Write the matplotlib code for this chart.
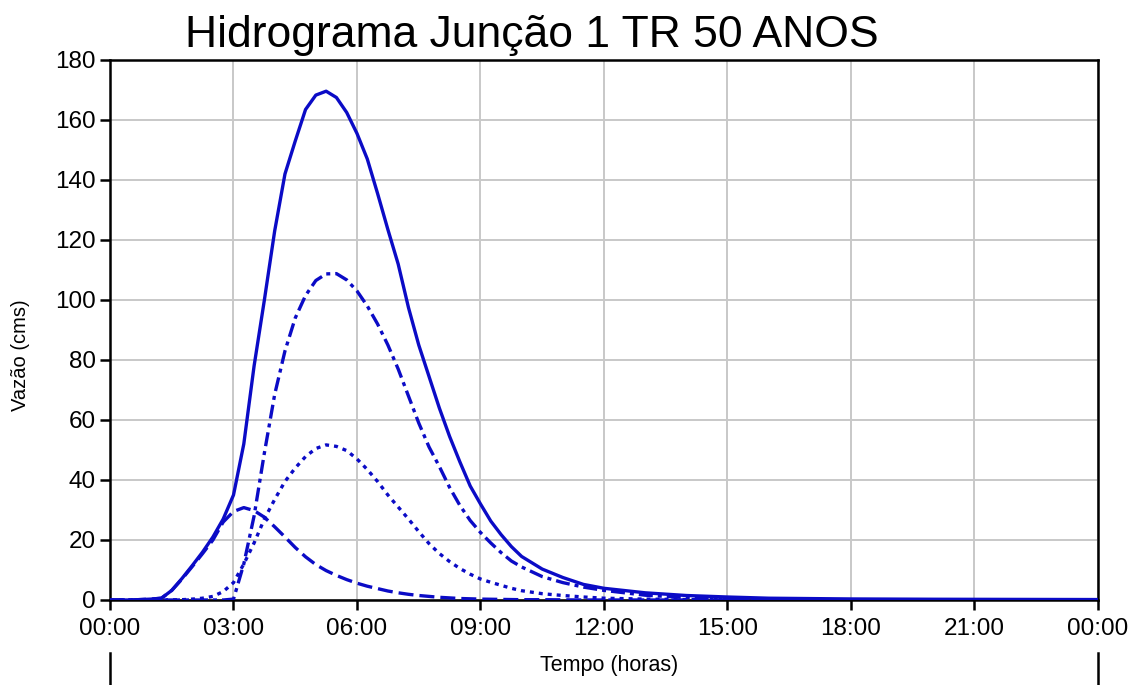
import matplotlib
matplotlib.use("Agg")
import matplotlib.pyplot as plt

# Tempo em horas desde o início da simulação
hours = [0, 0.5, 1.0, 1.25, 1.5, 1.75, 2.0, 2.25, 2.5, 2.75,
         3.0, 3.25, 3.5, 3.75, 4.0, 4.25, 4.5, 4.75, 5.0, 5.25,
         5.5, 5.75, 6.0, 6.25, 6.5, 6.75, 7.0, 7.25, 7.5, 7.75,
         8.0, 8.25, 8.5, 8.75, 9.0, 9.25, 9.5, 9.75, 10.0, 10.5,
         11.0, 11.5, 12.0, 13.0, 14.0, 15.0, 16.0, 18.0, 20.0, 22.0, 24.0]

# Vazão total na junção (cms)
q_total = [0, 0, 0.3, 0.6, 3.2, 7.2, 11.5, 16, 21, 27,
           35, 52, 78, 100, 123, 142, 153, 163.5, 168.3, 169.6,
           167.5, 162.5, 155.5, 147, 135.5, 123.5, 112, 97.5, 85, 74.5,
           64, 54.5, 46, 38, 32, 26.3, 21.8, 17.8, 14.5, 10.3,
           7.5, 5.2, 3.9, 2.4, 1.5, 1.0, 0.6, 0.35, 0.25, 0.2, 0.15]

# Contribuição da sub-bacia local (tracejada)
q_local = [0, 0, 0.3, 0.6, 3.2, 7.0, 11.2, 15.5, 20, 26,
           29.5, 30.8, 29.8, 27.6, 24.4, 21, 17.5, 14.4, 11.8, 9.8,
           8.2, 6.8, 5.6, 4.6, 3.8, 3.0, 2.4, 1.9, 1.5, 1.2,
           0.9, 0.7, 0.5, 0.4, 0.3, 0.25, 0.2, 0.15, 0.1, 0.1,
           0.05, 0, 0, 0, 0, 0, 0, 0, 0, 0, 0]

# Contribuição de montante (pontilhada)
q_upstream = [0, 0, 0, 0, 0.05, 0.1, 0.3, 0.6, 1.2, 2.8,
              5.8, 12, 19, 27, 33.5, 39.5, 44, 47.8, 50.5, 51.7,
              51.2, 49.8, 47, 43.5, 39.5, 35, 31, 27, 22.8, 18.8,
              15.5, 12.8, 10.5, 8.6, 7.0, 5.9, 4.9, 3.9, 3.1, 2.1,
              1.5, 1.0, 0.6, 0.3, 0.15, 0.1, 0.05, 0, 0, 0, 0]

# Contribuição do trecho propagado (traço-ponto)
q_routed = [0, 0, 0, 0, 0, 0, 0, 0, 0, 0,
            0.3, 12, 28, 49, 68.5, 83, 94, 101.5, 106.5, 108.7,
            108.8, 106.7, 103, 98, 92, 85, 77, 68, 59, 51,
            44.5, 37.5, 31.5, 26.5, 22.5, 19, 15.8, 13, 11, 7.8,
            5.8, 4.3, 3.2, 1.6, 0.8, 0.4, 0.2, 0.05, 0, 0, 0]

tick_hours = [0, 3, 6, 9, 12, 15, 18, 21, 24]
tick_labels = ["00:00", "03:00", "06:00", "09:00", "12:00",
               "15:00", "18:00", "21:00", "00:00"]
y_ticks = [0, 20, 40, 60, 80, 100, 120, 140, 160, 180]

plt.rcParams['font.family'] = ['Liberation Sans', 'DejaVu Sans']

W, H = 1134, 685
fig = plt.figure(figsize=(W / 100, H / 100), dpi=100)
fig.patch.set_facecolor('white')

ax_l, ax_r, ax_t, ax_b = 110, 1098, 60, 600
ax = fig.add_axes([ax_l / W, 1 - ax_b / H, (ax_r - ax_l) / W, (ax_b - ax_t) / H])

blue = '#0B0BC6'
lw = 2.4
ax.plot(hours, q_local, color=blue, lw=lw, dashes=(4.5, 1.8), zorder=3)
ax.plot(hours, q_upstream, color=blue, lw=lw, dashes=(1.2, 1.5), zorder=3)
ax.plot(hours, q_routed, color=blue, lw=lw, dashes=(4.2, 1.5, 1.2, 1.5), zorder=3)
ax.plot(hours, q_total, color=blue, lw=lw, zorder=4)

ax.set_xlim(0, 24)
ax.set_ylim(0, 180)
ax.set_xticks(tick_hours)
ax.set_xticklabels(tick_labels)
ax.set_yticks(y_ticks)

ax.grid(True, color='#c8c8c8', lw=1.4, zorder=0)
ax.set_axisbelow(True)
for s in ax.spines.values():
    s.set_linewidth(1.8)
    s.set_color('black')

ax.tick_params(axis='both', direction='out', length=7, width=1.8, colors='black')
ax.tick_params(axis='x', labelsize=17.5, pad=6)
ax.tick_params(axis='y', labelsize=17.5, pad=3)

ax.set_ylabel("Vazão (cms)", fontsize=14.5)
ax.yaxis.label.set_va('center')
ax.yaxis.set_label_coords((20 - ax_l) / (ax_r - ax_l), (ax_b - 355) / (ax_b - ax_t))
ax.set_xlabel("Tempo (horas)", fontsize=15.5)
ax.xaxis.label.set_va('center')
ax.xaxis.set_label_coords((609 - ax_l) / (ax_r - ax_l), (ax_b - 665) / (ax_b - ax_t))

fig.text(532 / W, 1 - 47 / H, "Hidrograma Junção 1 TR 50 ANOS",
         fontsize=32, ha='center', va='baseline')

# Painel inferior (apenas as bordas laterais aparecem)
ax2 = fig.add_axes([ax_l / W, -0.1, (ax_r - ax_l) / W, 0.1 + (H - 653) / H])
ax2.set_facecolor('none')
ax2.spines['top'].set_visible(False)
ax2.spines['bottom'].set_visible(False)
for side in ('left', 'right'):
    ax2.spines[side].set_linewidth(1.8)
ax2.set_xticks([])
ax2.set_yticks([])

fig.savefig("out.png", dpi=100)
